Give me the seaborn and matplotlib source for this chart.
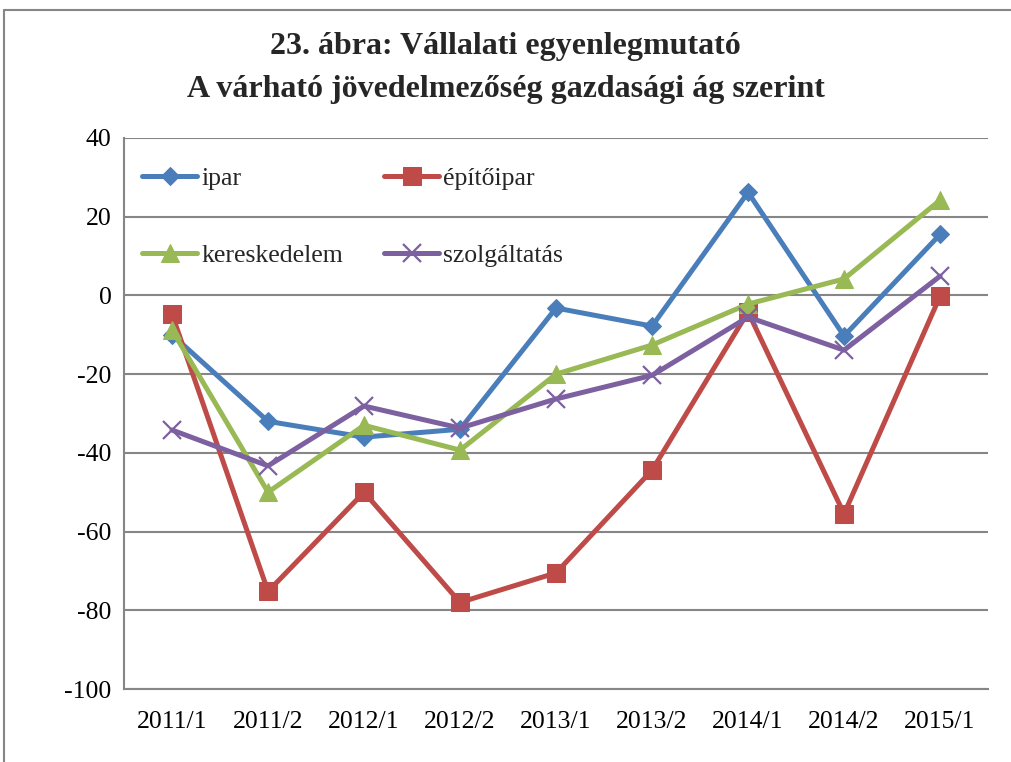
import matplotlib
matplotlib.use("Agg")
import matplotlib.pyplot as plt
from matplotlib.lines import Line2D
import seaborn as sns
import pandas as pd

categories = ["2011/1", "2011/2", "2012/1", "2012/2", "2013/1", "2013/2", "2014/1", "2014/2", "2015/1"]
ipar = [-10.0, -32.0, -36.0, -34.0, -3.2, -7.8, 26.2, -10.3, 15.5]
epitoipar = [-4.8, -75.2, -50.0, -78.0, -70.5, -44.4, -4.2, -55.5, -0.2]
kereskedelem = [-8.8, -50.0, -33.0, -39.3, -20.0, -12.6, -2.2, 4.2, 24.2]
szolgaltatas = [-34.2, -43.3, -28.1, -33.7, -26.3, -20.3, -5.5, -13.9, 4.9]
title = "23. ábra: Vállalati egyenlegmutató\nA várható jövedelmezőség gazdasági ág szerint"

sns.set_theme(style="white")
plt.rcParams['font.family'] = ['Liberation Serif', 'DejaVu Serif']

series = [
    ("ipar", ipar, "#4A7EBB", "D", 9.5, {}),
    ("építőipar", epitoipar, "#BE4B48", "s", 13, {}),
    ("kereskedelem", kereskedelem, "#98B954", "^", 13.5, {}),
    ("szolgáltatás", szolgaltatas, "#7D60A0", "x", 12.5, {"markeredgewidth": 1.6}),
]

fig = plt.figure(figsize=(10.11, 7.62), dpi=100)
ax = fig.add_axes([0.1227, 0.0958, 0.8546, 0.7231])

x = list(range(len(categories)))
for name, vals, col, mk, ms, extra in series:
    df = pd.DataFrame({"x": x, "y": vals})
    sns.lineplot(data=df, x="x", y="y", ax=ax, color=col, linewidth=3.6,
                 marker=mk, markersize=ms, markeredgecolor=col, markerfacecolor=col,
                 label=name, **extra)

ax.set_xlim(-0.5, 8.5)
ax.set_ylim(-100, 40)
ax.set_yticks(range(-100, 41, 20))
ax.set_yticklabels([str(v) for v in range(-100, 41, 20)])
ax.set_xticks(x)
ax.set_xticklabels(categories)
ax.set_xlabel("")
ax.set_ylabel("")
ax.yaxis.grid(True, color="#868686", linewidth=1.5)
ax.xaxis.grid(False)
ax.set_axisbelow(True)
for s in ["top", "right"]:
    ax.spines[s].set_visible(False)
for s in ["left", "bottom"]:
    ax.spines[s].set_color("#868686")
    ax.spines[s].set_linewidth(1.5)
ax.tick_params(axis="y", length=0, pad=9, labelsize=18.5, colors="black")
ax.tick_params(axis="x", length=0, pad=16, labelsize=18.5, colors="black")

handles, labels = ax.get_legend_handles_labels()
order = [0, 2, 1, 3]
ax.legend([handles[i] for i in order], [labels[i] for i in order], ncol=2,
          loc="upper left", bbox_to_anchor=(0.021, 0.947), frameon=False,
          fontsize=18.5, handlelength=2.14, handletextpad=0.15,
          columnspacing=1.62, labelspacing=2.1, borderaxespad=0.0, borderpad=0.0)

fig.suptitle(title, fontsize=23, fontweight="bold", y=0.958, linespacing=1.62)

fig.add_artist(Line2D([4/1011, 4/1011], [0, 1 - 10/762], transform=fig.transFigure, color="#868686", linewidth=1.5))
fig.add_artist(Line2D([4/1011, 1], [1 - 10/762, 1 - 10/762], transform=fig.transFigure, color="#868686", linewidth=1.5))

fig.savefig("out.png", dpi=100)
